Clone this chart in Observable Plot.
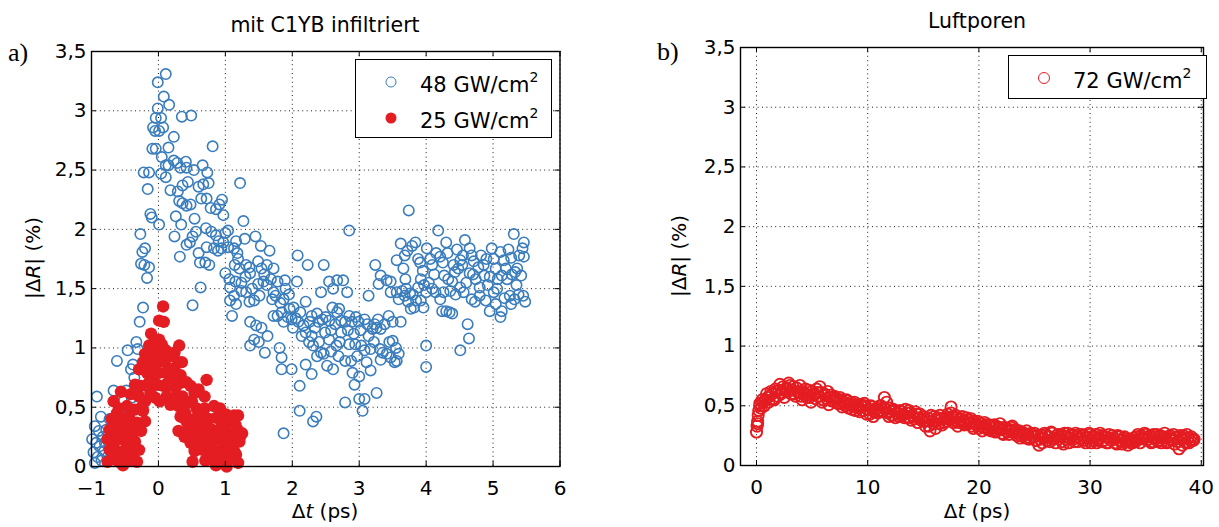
<!DOCTYPE html>
<html><head><meta charset="utf-8">
<script src="https://cdn.jsdelivr.net/npm/d3@7"></script>
<script src="https://cdn.jsdelivr.net/npm/@observablehq/plot@0.6"></script>
<style>
body{margin:0;background:#fff;}
#wrap{position:relative;width:1219px;height:527px;font-family:"DejaVu Sans",sans-serif;color:#000;overflow:hidden;}
#wrap svg text{font-family:"DejaVu Sans",sans-serif !important;font-size:20px !important;fill:#000;}
.abs{position:absolute;white-space:nowrap;line-height:1;}
.panel{position:absolute;top:0;}
.ttl{font-size:20.5px;transform:translate(-50%,-50%);}
.xl{font-size:20px;transform:translate(-50%,-50%);}
.yl{font-size:20px;transform:translate(-50%,-50%) rotate(-90deg);}
.tag{font-family:"Liberation Serif","DejaVu Serif",serif;font-size:26px;transform:translate(0,-50%);}
.legend{position:absolute;border:1.3px solid #000;background:#fff;box-sizing:border-box;}
.lt{position:absolute;font-size:21px;white-space:nowrap;line-height:1;transform:translate(0,-50%);}
.lt sup{font-size:14px;vertical-align:0;position:relative;top:-10px;}
.mk{position:absolute;box-sizing:border-box;border-radius:50%;transform:translate(-50%,-50%);}
</style></head>
<body><div id="wrap"></div>
<script>
const BLUE = "#3a7dbd", RED = "#e41d22";
const xTicksA = [-1,0,1,2,3,4,5,6];
const xTicksB = [0,10,20,30,40];
const yTicks = [0,0.5,1,1.5,2,2.5,3,3.5];
const titleA = "mit C1YB infiltriert", titleB = "Luftporen";
const legendA = ["48 GW/cm", "25 GW/cm"], legendB = ["72 GW/cm"];

// 48 GW/cm² (open blue circles) [Δt ps, |ΔR| %]
const series48 = [
[-0.99,0.23],[-0.95,0.34],[-0.92,0.59],[-0.95,0.03],[-0.91,0.08],[-0.88,0.17],[-0.86,0.42],[-0.83,0.25],[-0.81,0.13],[-0.78,0.31],
[-0.73,0.40],[-0.67,0.64],[-0.62,0.89],[-0.59,0.45],[-0.53,0.37],[-0.48,0.64],[-0.46,0.98],[-0.41,0.82],[-0.38,0.86],[-0.33,1.05],
[-0.31,0.99],[-0.28,1.22],[-0.23,1.34],[-0.27,1.96],[-0.24,1.81],[-0.20,1.84],[-0.26,1.71],[-0.21,1.70],[-0.17,1.59],[-0.14,1.68],
[-0.22,2.48],[-0.14,2.48],[-0.16,2.34],[-0.12,2.13],[-0.10,2.10],[0.01,2.04],[-0.09,2.68],[-0.04,2.68],[-0.08,2.86],[-0.04,2.94],
[-0.01,3.02],[-0.01,3.24],[0.11,3.31],[0.08,3.12],[0.16,3.05],[0.04,2.94],[0.07,2.86],[0.01,2.83],[-0.05,2.83],[0.15,2.69],
[0.23,2.78],[0.35,2.95],[0.49,2.96],[0.05,2.61],[0.11,2.54],[0.04,2.47],[0.11,2.44],[0.18,2.33],[0.15,2.54],[0.23,2.58],
[0.28,2.56],[0.33,2.52],[0.41,2.57],[0.42,2.52],[0.29,2.32],[0.36,2.37],[0.44,2.40],[0.31,2.24],[0.36,2.22],[0.42,2.20],
[0.48,2.21],[0.26,2.11],[0.34,2.04],[0.24,1.94],[0.32,1.77],[0.42,1.87],[0.47,1.89],[0.51,1.94],[0.54,2.09],[0.56,1.98],
[0.53,2.50],[0.66,2.54],[0.73,2.48],[0.60,2.36],[0.67,2.38],[0.75,2.39],[0.64,2.26],[0.72,2.26],[0.81,2.70],[0.60,1.80],
[0.62,1.72],[0.70,1.72],[0.76,1.70],[0.51,1.36],[0.63,1.51],[0.71,2.01],[0.79,1.98],[0.86,1.95],[0.83,1.84],[0.89,1.82],
[0.94,1.84],[0.78,2.18],[0.86,2.17],[0.91,2.21],[0.95,2.25],[0.97,2.12],[1.00,1.97],[1.04,1.99],[0.97,1.89],[1.04,1.85],
[1.13,1.84],[1.18,1.80],[1.16,1.90],[1.00,1.63],[1.06,1.58],[1.07,1.51],[1.15,1.56],[1.07,1.40],[1.13,1.44],[1.22,2.39],
[1.27,2.07],[1.29,1.92],[1.45,1.94],[1.19,1.75],[1.21,1.67],[1.31,1.70],[1.36,1.68],[1.37,1.63],[1.49,1.73],[1.53,1.86],
[1.66,1.82],[1.54,1.67],[1.62,1.70],[1.72,1.67],[1.10,1.27],[1.16,1.37],[1.24,1.48],[1.31,1.47],[1.40,1.50],[1.36,1.39],
[1.43,1.40],[1.51,1.44],[1.49,1.54],[1.57,1.56],[1.62,1.53],[1.72,1.47],[1.78,1.56],[1.89,1.57],[1.90,1.50],[2.07,1.56],
[1.70,1.41],[1.75,1.44],[1.87,1.41],[1.96,1.33],[2.02,1.34],[2.08,1.78],[2.23,1.70],[2.47,1.70],[1.37,1.22],[1.46,1.19],
[1.54,1.17],[1.43,1.07],[1.50,1.05],[1.59,0.96],[1.37,1.02],[1.63,1.10],[1.72,1.27],[1.78,1.27],[1.84,1.30],[1.93,1.26],
[1.87,1.22],[1.99,1.24],[2.01,1.17],[1.81,1.00],[1.84,0.92],[1.84,0.82],[1.99,0.82],[2.09,1.22],[2.14,1.10],[2.17,1.19],
[2.26,1.22],[2.20,1.13],[2.29,1.10],[2.20,1.39],[2.29,1.27],[2.37,1.29],[2.43,1.47],[2.55,1.56],[2.61,1.50],[2.67,1.57],
[2.76,1.57],[2.82,1.47],[2.39,1.22],[2.45,1.24],[2.50,1.26],[2.55,1.23],[2.49,1.13],[2.60,1.34],[2.67,1.30],[2.70,1.33],
[2.73,1.23],[2.79,1.22],[2.73,1.13],[2.85,1.27],[2.89,1.22],[2.95,1.26],[2.99,1.22],[3.08,1.24],[3.14,1.44],[3.24,1.70],
[3.32,1.61],[3.29,1.54],[3.41,1.57],[3.47,1.47],[2.85,1.99],[3.74,2.16],[2.11,0.68],[2.11,0.47],[2.31,0.38],[2.36,0.42],
[1.87,0.28],[2.20,0.86],[2.29,0.78],[2.37,0.93],[2.43,0.96],[2.31,1.02],[2.52,0.85],[2.55,1.07],[2.61,0.82],[2.66,1.02],
[2.79,0.89],[2.85,1.03],[2.88,0.89],[2.94,1.03],[2.97,0.93],[2.90,0.79],[2.93,0.69],[3.00,0.76],[3.03,1.02],[3.08,0.98],
[3.11,0.88],[3.17,0.81],[3.17,0.99],[3.00,0.57],[3.08,0.57],[3.05,0.47],[3.26,0.62],[2.79,0.54],[3.14,1.10],[3.20,1.16],
[3.26,1.17],[3.32,1.16],[3.23,1.20],[3.31,0.99],[3.35,0.96],[3.32,0.90],[3.41,0.95],[3.47,0.92],[3.50,1.06],[3.56,0.89],
[3.59,0.95],[3.44,1.27],[3.50,1.22],[3.62,1.22],[3.53,0.88],[3.47,1.56],
[3.56,1.74],[3.62,1.88],[3.68,1.78],[3.72,1.82],[3.66,1.67],[3.69,1.58],[3.56,1.47],[3.59,1.41],[3.68,1.44],[3.76,1.46],
[3.73,1.39],[3.77,1.33],[3.82,1.34],[3.85,1.40],[3.79,1.86],[3.84,1.89],[3.88,1.75],[3.91,1.72],[3.88,1.51],[3.92,1.58],
[3.97,1.53],[3.96,1.34],[4.00,1.47],[4.01,1.84],[4.06,1.75],[4.09,1.70],[4.09,1.50],[4.14,1.47],[4.18,1.99],[4.15,1.80],
[4.21,1.77],[4.30,1.89],[4.32,1.80],[4.00,1.02],[4.00,0.84],[4.21,1.41],[4.24,1.31],[4.30,1.31],[4.35,1.30],[4.39,1.29],
[4.27,1.61],[4.33,1.58],[4.39,1.56],[4.43,1.64],[4.41,1.70],[4.48,1.67],[4.51,1.74],[4.54,1.70],[4.46,1.83],[4.51,1.51],
[4.56,1.47],[4.51,0.98],[4.62,1.20],[4.64,1.08],[4.58,1.91],[4.65,1.84],[4.68,1.78],[4.71,1.73],[4.65,1.63],[4.74,1.58],
[4.68,1.41],[4.73,1.39],[4.80,1.44],[4.82,1.78],[4.86,1.70],[4.87,1.61],[4.92,1.53],[4.89,1.40],[4.95,1.31],[4.98,1.84],
[5.01,1.75],[5.04,1.67],[5.07,1.58],[5.04,1.37],[5.11,1.26],[5.13,1.31],[5.11,1.81],[5.16,1.74],[5.19,1.67],[5.23,1.83],
[5.27,1.76],[5.31,1.96],[5.25,1.44],[5.27,1.37],[5.32,1.41],[5.35,1.53],[5.36,1.67],[5.39,1.78],[5.44,1.84],[5.46,1.89],
[5.42,1.61],[5.45,1.44],[5.48,1.39],[5.46,1.77],[5.21,1.58],[5.33,1.64],[5.01,1.47],[4.80,1.51],[5.13,1.61],
[-0.97,0.12],[-0.93,0.20],[-0.89,0.30],[-0.85,0.05],[-0.80,0.20],[-0.76,0.08],[-0.72,0.25],[-0.70,0.15],[-0.65,0.35],[-0.60,0.28],
[-0.56,0.20],[-0.52,0.55],[-0.50,0.30],[-0.44,0.45],[-0.40,0.58],[-0.36,0.75],[-0.30,0.60],[-0.42,0.20],
[1.58,1.62],[1.68,1.58],[1.82,1.38],[1.95,1.45],[2.05,1.25],[2.12,1.30],[2.25,1.05],[2.34,1.17],[2.40,1.05],[2.58,1.15],
[2.64,1.20],[2.71,1.05],[2.83,1.15],[2.92,1.12],[3.02,1.15],[3.12,1.20],[3.22,1.05],[3.28,1.24],[3.38,1.20],[3.45,1.05],
[3.55,1.00],[2.47,0.95],[2.58,0.97],[2.69,0.93],[3.64,1.48],[3.70,1.50],[3.80,1.45],[3.92,1.40],[4.04,1.55],[4.12,1.62],
[4.26,1.47],[4.36,1.48],[4.44,1.45],[4.60,1.55],[4.70,1.62],[4.78,1.68],[4.90,1.75],[4.95,1.60],[5.06,1.50],[5.17,1.42],
[5.28,1.62],[5.38,1.45],[4.55,1.78],[4.25,1.72],[3.95,1.65],[1.24,1.55],[1.30,1.60],[1.14,1.70],[0.90,1.90],[0.72,1.85]
];

// 25 GW/cm² (filled red dots)
const series25 = [
[0.07,1.35],[0.01,1.23],[0.08,1.22],[-0.11,1.12],[-0.05,1.07],[0.01,1.07],[0.05,1.03],[-0.14,1.02],[-0.02,0.99],[0.11,0.98],
[0.31,1.02],[-0.20,0.95],[-0.08,0.93],[0.04,0.93],[0.18,0.93],[0.24,0.96],[-0.23,0.88],[-0.14,0.89],[-0.02,0.88],[0.09,0.88],
[0.30,0.88],[0.24,0.83],[-0.29,0.82],[-0.17,0.79],[-0.08,0.76],[0.01,0.79],[0.12,0.79],[0.18,0.82],[0.33,0.77],[0.36,0.71],
[0.72,0.73],[-0.35,0.69],[-0.26,0.68],[-0.14,0.71],[-0.02,0.69],[0.07,0.68],[0.18,0.68],[0.27,0.68],[0.42,0.71],[0.48,0.68],
[0.60,0.65],[0.69,0.59],[-0.56,0.63],[-0.41,0.61],[-0.29,0.59],[-0.20,0.55],[0.12,0.59],[0.24,0.57],[0.36,0.59],[0.54,0.62],
[-0.67,0.55],[-0.59,0.49],[-0.47,0.51],[-0.35,0.48],[-0.23,0.47],[0.18,0.52],[0.30,0.51],[0.45,0.54],[0.57,0.49],[0.69,0.49],
[0.83,0.51],[0.92,0.49],[1.01,0.44],[1.13,0.43],[1.19,0.43],[-0.70,0.40],[-0.64,0.37],[-0.53,0.40],[-0.44,0.42],[-0.32,0.37],
[-0.20,0.38],[0.33,0.42],[0.42,0.38],[0.54,0.40],[0.66,0.37],[0.75,0.40],[0.86,0.41],[0.95,0.38],[1.07,0.37],[1.18,0.31],
[1.25,0.28],[-0.73,0.31],[-0.62,0.28],[-0.50,0.30],[-0.38,0.28],[0.30,0.30],[0.39,0.25],[0.51,0.28],[0.60,0.31],[0.72,0.28],
[0.80,0.31],[0.89,0.28],[0.98,0.30],[1.10,0.27],[1.22,0.25],[-0.76,0.23],[-0.67,0.20],[-0.59,0.23],[-0.47,0.20],[-0.35,0.21],
[0.48,0.20],[0.60,0.23],[0.75,0.20],[0.86,0.23],[0.98,0.20],[1.13,0.20],[1.21,0.21],[-0.73,0.14],[-0.62,0.13],[-0.50,0.14],
[-0.38,0.13],[-0.29,0.14],[0.54,0.13],[0.66,0.14],[0.78,0.11],[0.89,0.13],[1.01,0.14],[1.13,0.13],[-0.67,0.06],[-0.59,0.04],
[-0.47,0.07],[-0.32,0.04],[0.51,0.04],[0.75,0.06],[0.86,0.01],[0.95,0.04],[1.07,0.07],[1.19,0.03],[-0.76,0.04],[-0.53,0.01],
[-0.37,0.06],[0.92,0.11],[-0.26,0.30],[-0.12,0.62],[-0.05,0.58],[0.02,0.55],[0.38,0.47],[0.45,0.33],[0.63,0.18],[0.83,0.06],
[1.04,0.24],[1.16,0.10],[-0.55,0.10],[-0.44,0.34],[-0.62,0.45],[-0.41,0.05],[0.70,0.05],[1.02,0.00],[0.22,0.74],[-0.09,0.82],
[-0.45,0.25],[-0.58,0.33],[-0.68,0.10],[-0.25,0.50],[-0.15,0.85],[0.13,0.70],[0.27,0.60],[0.40,0.45],[0.58,0.35],[0.68,0.25],
[0.80,0.15],[0.94,0.33],[1.06,0.18],[1.15,0.35],[0.35,0.88],[-0.06,0.95],[0.50,0.55],[0.62,0.45]
];

// 72 GW/cm² (open red circles), Luftporen
const series72 = [
[0,0.28],[0.05,0.33],[0.1,0.37],[0.15,0.42],[0.2,0.46],[0.3,0.50],[0.4,0.48],[0.6,0.53],[0.8,0.55],[1.0,0.57],
[1.2,0.58],[1.4,0.60],[1.6,0.55],[1.8,0.62],[2.0,0.63],[2.2,0.60],[2.4,0.66],[2.6,0.64],[2.8,0.62],[3.0,0.67],
[3.2,0.63],[3.4,0.60],[3.6,0.65],[3.8,0.61],[4.0,0.58],[4.2,0.62],[4.4,0.64],[4.6,0.59],[4.8,0.57],[5.0,0.62],
[5.2,0.60],[5.4,0.64],[5.6,0.58],[5.8,0.61],[6.0,0.55],[6.2,0.59],[6.4,0.62],[6.6,0.57],[6.8,0.54],[7.0,0.58],
[7.2,0.56],[7.4,0.52],[7.6,0.55],[7.8,0.53],[8.0,0.50],[8.2,0.54],[8.4,0.51],[8.6,0.47],[8.8,0.53],[9.0,0.50],
[9.2,0.48],[9.4,0.51],[9.6,0.46],[9.8,0.50],[10.0,0.47],[10.2,0.43],[10.4,0.49],[10.6,0.45],[10.8,0.48],[11.0,0.46],
[11.2,0.50],[11.5,0.57],[11.6,0.47],[11.8,0.44],[12.0,0.48],[12.2,0.42],[12.4,0.46],[12.6,0.44],[12.8,0.41],[13.0,0.45],
[13.2,0.43],[13.4,0.47],[13.6,0.40],[13.8,0.44],[14.0,0.42],[14.2,0.39],[14.4,0.43],[14.6,0.40],[14.8,0.38],[15.0,0.41],
[15.2,0.33],[15.4,0.40],[15.6,0.29],[15.8,0.37],[16.0,0.41],[16.2,0.38],[16.4,0.35],[16.6,0.39],[16.8,0.36],[17.0,0.40],
[17.2,0.43],[17.5,0.49],[17.6,0.41],[17.8,0.38],[18.0,0.40],[18.2,0.36],[18.4,0.39],[18.6,0.37],[18.8,0.35],[19.0,0.38],
[19.2,0.36],[19.4,0.33],[19.6,0.37],[19.8,0.34],[20.0,0.31],[20.2,0.35],[20.4,0.32],[20.6,0.34],[20.8,0.30],[21.0,0.33],
[21.2,0.31],[21.4,0.34],[21.6,0.29],[21.8,0.32],[22.0,0.30],[22.2,0.26],[22.4,0.31],[22.6,0.28],[22.8,0.30],[23.0,0.33],
[23.2,0.28],[23.4,0.25],[23.6,0.29],[23.8,0.25],[24.0,0.27],[24.2,0.23],[24.4,0.26],[24.6,0.23],[24.8,0.25],[25.0,0.27],
[25.2,0.21],[25.4,0.17],[25.6,0.25],[25.8,0.23],[26.0,0.26],[26.2,0.24],[26.4,0.20],[26.6,0.27],[26.8,0.23],[27.0,0.25],
[27.2,0.22],[27.4,0.26],[27.6,0.18],[27.8,0.24],[28.0,0.27],[28.2,0.23],[28.4,0.25],[28.6,0.20],[28.8,0.24],[29.0,0.26],
[29.2,0.22],[29.4,0.25],[29.6,0.19],[29.8,0.23],[30.0,0.26],[30.2,0.21],[30.4,0.24],[30.6,0.19],[30.8,0.23],[31.0,0.25],
[31.2,0.21],[31.4,0.24],[31.6,0.19],[31.8,0.23],[32.0,0.25],[32.2,0.22],[32.4,0.18],[32.6,0.24],[32.8,0.21],[33.0,0.23],
[33.2,0.20],[33.4,0.17],[33.6,0.22],[33.8,0.19],[34.0,0.21],[34.2,0.24],[34.4,0.22],[34.6,0.25],[34.8,0.23],[35.0,0.26],
[35.2,0.22],[35.4,0.25],[35.6,0.20],[35.8,0.24],[36.0,0.26],[36.2,0.21],[36.4,0.19],[36.6,0.24],[36.8,0.23],[37.0,0.20],
[37.2,0.25],[37.4,0.22],[37.6,0.18],[37.8,0.24],[38.0,0.14],[38.2,0.22],[38.4,0.25],[38.6,0.19],[38.8,0.23],[39.0,0.21],
[39.2,0.22],[39.3,0.21],
[0.1,0.35],[0.3,0.52],[0.5,0.55],[0.7,0.50],[0.9,0.60],[1.1,0.53],
[1.3,0.62],[1.5,0.56],[1.7,0.64],[1.9,0.58],[2.1,0.68],[2.3,0.61],[2.5,0.57],[2.7,0.65],[2.9,0.69],[3.1,0.60],
[3.3,0.66],[3.5,0.58],[3.7,0.62],[3.9,0.67],[4.1,0.55],[4.3,0.60],[4.5,0.57],[4.7,0.63],[4.9,0.53],[5.1,0.59],
[5.3,0.56],[5.5,0.61],[5.7,0.66],[5.9,0.53],[6.1,0.60],[6.3,0.56],[6.5,0.51],[6.7,0.59],[6.9,0.57],[7.1,0.53],
[7.3,0.52],[7.5,0.57],[7.7,0.49],[7.9,0.52],[8.1,0.55],[8.3,0.48],[8.5,0.53],[8.7,0.50],[8.9,0.46],[9.1,0.51],
[9.3,0.45],[9.5,0.49],[9.7,0.52],[9.9,0.43],[10.1,0.47],[10.3,0.50],[10.5,0.41],[10.7,0.47],[10.9,0.44],[11.1,0.50],
[11.3,0.45],[11.5,0.48],[11.7,0.53],[11.9,0.41],[12.1,0.45],[12.3,0.47],[12.5,0.40],[12.7,0.43],[12.9,0.46],[13.1,0.42],
[13.3,0.40],[13.5,0.44],[13.7,0.46],[13.9,0.38],[14.1,0.41],[14.3,0.45],[14.5,0.36],[14.7,0.43],[14.9,0.39],[15.1,0.37],
[15.3,0.38],[15.5,0.33],[15.7,0.42],[15.9,0.35],[16.1,0.31],[16.3,0.40],[16.5,0.42],[16.7,0.34],[16.9,0.39],[17.1,0.37],
[17.3,0.39],[17.5,0.44],[17.7,0.36],[17.9,0.42],[18.1,0.33],[18.3,0.38],[18.5,0.41],[18.7,0.34],[18.9,0.40],[19.1,0.35],
[19.3,0.39],[19.5,0.31],[19.7,0.35],[19.9,0.37],[20.1,0.33],[20.3,0.29],[20.5,0.36],[20.7,0.31],[20.9,0.34],[21.1,0.29],
[21.3,0.33],[21.5,0.28],[21.7,0.31],[21.9,0.35],[22.1,0.27],[22.3,0.32],[22.5,0.29],[22.7,0.26],[22.9,0.32],[23.1,0.28],
[23.3,0.30],[23.5,0.27],[23.7,0.23],[23.9,0.28],[24.1,0.26],[24.3,0.29],[24.5,0.22],[24.7,0.27],[24.9,0.24],[25.1,0.21],
[25.3,0.25],[25.5,0.22],[25.7,0.19],[25.9,0.27],[26.1,0.21],[26.3,0.24],[26.5,0.28],[26.7,0.22],[26.9,0.19],[27.1,0.26],
[27.3,0.24],[27.5,0.20],[27.7,0.27],[27.9,0.22],[28.1,0.19],[28.3,0.26],[28.5,0.22],[28.7,0.27],[28.9,0.20],[29.1,0.23],
[29.3,0.26],[29.5,0.21],[29.7,0.24],[29.9,0.27],[30.1,0.19],[30.3,0.23],[30.5,0.26],[30.7,0.21],[30.9,0.27],[31.1,0.20],
[31.3,0.24],[31.5,0.19],[31.7,0.26],[31.9,0.21],[32.1,0.23],[32.3,0.19],[32.5,0.25],[32.7,0.21],[32.9,0.18],[33.1,0.24],
[33.3,0.22],[33.5,0.20],[33.7,0.19],[33.9,0.23],[34.1,0.20],[34.3,0.26],[34.5,0.19],[34.7,0.23],[34.9,0.27],[35.1,0.21],
[35.3,0.24],[35.5,0.19],[35.7,0.26],[35.9,0.22],[36.1,0.20],[36.3,0.25],[36.5,0.23],[36.7,0.27],[36.9,0.19],[37.1,0.24],
[37.3,0.21],[37.5,0.26],[37.7,0.23],[37.9,0.20],[38.1,0.25],[38.3,0.17],[38.5,0.23],[38.7,0.26],[38.9,0.19],[39.1,0.24],
[39.35,0.22]
];

const fmt = d => (d < 0 ? "\u2212" : "") + String(Math.abs(d)).replace(".", ",");
const FONT = "'DejaVu Sans', sans-serif";
const GRID = {stroke: "#000", strokeOpacity: 0.9, strokeDasharray: "1,3.4", strokeWidth: 1};

function panel({width, mL, mR, mT, mB, xDomain, xTicks, marks}) {
  const H = 527;
  const pw = width - mL - mR, ph = H - mT - mB;
  return Plot.plot({
    width, height: H,
    marginLeft: mL, marginRight: mR, marginTop: mT, marginBottom: mB,
    x: {domain: xDomain}, y: {domain: [0, 3.5]},
    style: {fontFamily: FONT, fontSize: "20px", background: "transparent", overflow: "visible", color: "#000"},
    marks: [
      Plot.gridX(xTicks, GRID),
      Plot.gridY(yTicks, GRID),
      ...marks,
      Plot.ruleX(xTicks, {x: d => d, stroke: "#000", strokeWidth: 1, insetTop: ph - 5}),
      Plot.ruleX(xTicks, {x: d => d, stroke: "#000", strokeWidth: 1, insetBottom: ph - 5}),
      Plot.ruleY(yTicks, {y: d => d, stroke: "#000", strokeWidth: 1, insetRight: pw - 5}),
      Plot.ruleY(yTicks, {y: d => d, stroke: "#000", strokeWidth: 1, insetLeft: pw - 5}),
      Plot.frame({stroke: "#000", strokeWidth: 1.4}),
      Plot.axisX(xTicks, {tickSize: 0, tickPadding: 14, tickFormat: fmt, label: null}),
      Plot.axisY(yTicks, {tickSize: 0, tickPadding: 5, tickFormat: fmt, label: null})
    ]
  });
}

const wrap = document.getElementById("wrap");

const plotA = panel({
  width: 610, mL: 91, mR: 50.5, mT: 51, mB: 61, xDomain: [-1, 6], xTicks: xTicksA,
  marks: [
    Plot.dot(series48, {x: d => d[0], y: d => d[1], r: 5.2, stroke: BLUE, strokeWidth: 1.6, fill: "none"}),
    Plot.dot(series25, {x: d => d[0], y: d => d[1], r: 6.2, fill: RED, stroke: "none"})
  ]
});
plotA.classList.add("panel"); plotA.style.left = "0px";
wrap.appendChild(plotA);

const plotB = panel({
  width: 609, mL: 130, mR: 16, mT: 47, mB: 62, xDomain: [-1.44, 40.2], xTicks: xTicksB,
  marks: [
    Plot.dot(series72, {x: d => d[0], y: d => d[1], r: 5.6, stroke: RED, strokeWidth: 1.9, fill: "none"})
  ]
});
plotB.classList.add("panel"); plotB.style.left = "610px";
wrap.appendChild(plotB);

function txt(cls, html, x, y) {
  const d = document.createElement("div");
  d.className = "abs " + cls; d.innerHTML = html;
  d.style.left = x + "px"; d.style.top = y + "px";
  wrap.appendChild(d); return d;
}
txt("ttl", titleA, 325, 25);
txt("ttl", titleB, 977, 21);
txt("xl", "\u0394<i>t</i> (ps)", 325, 511);
txt("xl", "\u0394<i>t</i> (ps)", 977, 511);
txt("yl", "|\u0394<i>R</i>| (%)", 33, 258);
txt("yl", "|\u0394<i>R</i>| (%)", 679, 256);
txt("tag", "a)", 8, 53);
txt("tag", "b)", 657, 52);

function legend(x, y, w, h, items) {
  const box = document.createElement("div");
  box.className = "legend";
  Object.assign(box.style, {left: x + "px", top: y + "px", width: w + "px", height: h + "px"});
  items.forEach(it => {
    const m = document.createElement("div");
    m.className = "mk";
    Object.assign(m.style, {left: it.mx + "px", top: it.my + "px", width: it.size + "px", height: it.size + "px"});
    if (it.filled) m.style.background = it.color; else m.style.border = "1.6px solid " + it.color;
    box.appendChild(m);
    const t = document.createElement("div");
    t.className = "lt"; t.innerHTML = it.label + "<sup>2</sup>";
    t.style.left = it.tx + "px"; t.style.top = (it.my + 3) + "px";
    box.appendChild(t);
  });
  wrap.appendChild(box);
}
legend(355, 59, 197, 79, [
  {label: legendA[0], color: BLUE, filled: false, size: 11, mx: 35, my: 22, tx: 64},
  {label: legendA[1], color: RED, filled: true, size: 11, mx: 35, my: 58, tx: 64}
]);
legend(1008, 55, 199, 44, [
  {label: legendB[0], color: RED, filled: false, size: 12, mx: 35, my: 22, tx: 64}
]);
</script>
</body></html>
